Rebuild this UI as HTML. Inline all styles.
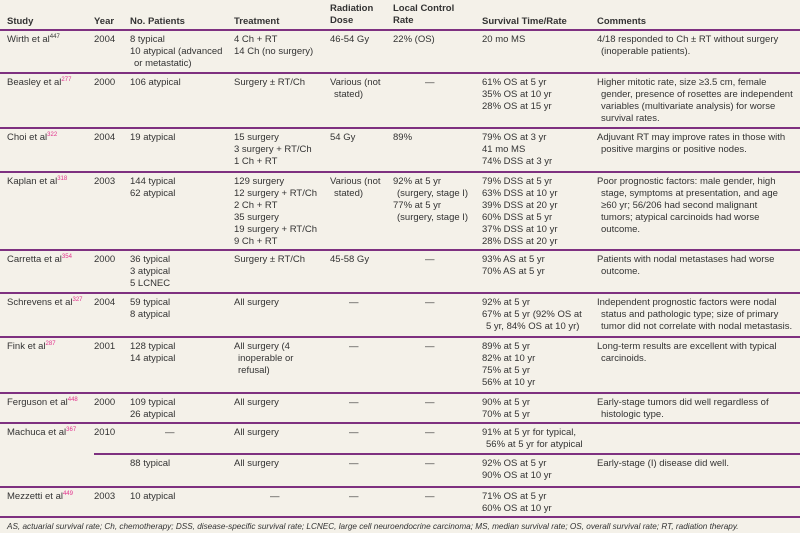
<!DOCTYPE html>
<html><head><meta charset="utf-8"><style>
body{margin:0;width:800px;height:533px;background:#f4f1e9;position:relative;overflow:hidden;font-family:"Liberation Sans",sans-serif;font-size:9.5px;color:#333;}
.c{position:absolute;line-height:12px;white-space:nowrap;}
.h{font-weight:bold;color:#333;}
.l{position:absolute;left:0;width:800px;height:1.5px;background:#7e3180;}
sup{font-size:6px;color:#e2308c;vertical-align:4px;line-height:0;}
sup.d{color:#333;}
.i{padding-left:4px;}
.cap{position:absolute;left:7px;top:522px;font-style:italic;font-size:8.2px;white-space:nowrap;}
</style></head><body>
<div class="c h" style="left:7px;top:16px">Study</div>
<div class="c h" style="left:94px;top:16px">Year</div>
<div class="c h" style="left:130px;top:16px">No. Patients</div>
<div class="c h" style="left:234px;top:16px">Treatment</div>
<div class="c h" style="left:330px;top:3px">Radiation<br>Dose</div>
<div class="c h" style="left:393px;top:3px">Local Control<br>Rate</div>
<div class="c h" style="left:482px;top:16px">Survival Time/Rate</div>
<div class="c h" style="left:597px;top:16px">Comments</div>
<div class="l" style="top:29px"></div>

<div class="c" style="left:7px;top:34px">Wirth et al<sup class="d">447</sup></div>
<div class="c" style="left:94px;top:34px">2004</div>
<div class="c" style="left:130px;top:34px">8 typical<br>10 atypical (advanced<br><span class="i">or metastatic)</span></div>
<div class="c" style="left:234px;top:34px">4 Ch + RT<br>14 Ch (no surgery)</div>
<div class="c" style="left:330px;top:34px">46-54 Gy</div>
<div class="c" style="left:393px;top:34px">22% (OS)</div>
<div class="c" style="left:482px;top:34px">20 mo MS</div>
<div class="c" style="left:597px;top:34px">4/18 responded to Ch ± RT without surgery<br><span class="i">(inoperable patients).</span></div>
<div class="l" style="top:72px"></div>

<div class="c" style="left:7px;top:77px">Beasley et al<sup>277</sup></div>
<div class="c" style="left:94px;top:77px">2000</div>
<div class="c" style="left:130px;top:77px">106 atypical</div>
<div class="c" style="left:234px;top:77px">Surgery ± RT/Ch</div>
<div class="c" style="left:330px;top:77px">Various (not<br><span class="i">stated)</span></div>
<div class="c" style="left:425px;top:77px">—</div>
<div class="c" style="left:482px;top:77px">61% OS at 5 yr<br>35% OS at 10 yr<br>28% OS at 15 yr</div>
<div class="c" style="left:597px;top:77px">Higher mitotic rate, size ≥3.5 cm, female<br><span class="i">gender, presence of rosettes are independent</span><br><span class="i">variables (multivariate analysis) for worse</span><br><span class="i">survival rates.</span></div>
<div class="l" style="top:127px"></div>

<div class="c" style="left:7px;top:132px">Choi et al<sup>322</sup></div>
<div class="c" style="left:94px;top:132px">2004</div>
<div class="c" style="left:130px;top:132px">19 atypical</div>
<div class="c" style="left:234px;top:132px">15 surgery<br>3 surgery + RT/Ch<br>1 Ch + RT</div>
<div class="c" style="left:330px;top:132px">54 Gy</div>
<div class="c" style="left:393px;top:132px">89%</div>
<div class="c" style="left:482px;top:132px">79% OS at 3 yr<br>41 mo MS<br>74% DSS at 3 yr</div>
<div class="c" style="left:597px;top:132px">Adjuvant RT may improve rates in those with<br><span class="i">positive margins or positive nodes.</span></div>
<div class="l" style="top:171px"></div>

<div class="c" style="left:7px;top:176px">Kaplan et al<sup>318</sup></div>
<div class="c" style="left:94px;top:176px">2003</div>
<div class="c" style="left:130px;top:176px">144 typical<br>62 atypical</div>
<div class="c" style="left:234px;top:176px">129 surgery<br>12 surgery + RT/Ch<br>2 Ch + RT<br>35 surgery<br>19 surgery + RT/Ch<br>9 Ch + RT</div>
<div class="c" style="left:330px;top:176px">Various (not<br><span class="i">stated)</span></div>
<div class="c" style="left:393px;top:176px">92% at 5 yr<br><span class="i">(surgery, stage I)</span><br>77% at 5 yr<br><span class="i">(surgery, stage I)</span></div>
<div class="c" style="left:482px;top:176px">79% DSS at 5 yr<br>63% DSS at 10 yr<br>39% DSS at 20 yr<br>60% DSS at 5 yr<br>37% DSS at 10 yr<br>28% DSS at 20 yr</div>
<div class="c" style="left:597px;top:176px">Poor prognostic factors: male gender, high<br><span class="i">stage, symptoms at presentation, and age</span><br><span class="i">≥60 yr; 56/206 had second malignant</span><br><span class="i">tumors; atypical carcinoids had worse</span><br><span class="i">outcome.</span></div>
<div class="l" style="top:249px"></div>

<div class="c" style="left:7px;top:254px">Carretta et al<sup>354</sup></div>
<div class="c" style="left:94px;top:254px">2000</div>
<div class="c" style="left:130px;top:254px">36 typical<br>3 atypical<br>5 LCNEC</div>
<div class="c" style="left:234px;top:254px">Surgery ± RT/Ch</div>
<div class="c" style="left:330px;top:254px">45-58 Gy</div>
<div class="c" style="left:425px;top:254px">—</div>
<div class="c" style="left:482px;top:254px">93% AS at 5 yr<br>70% AS at 5 yr</div>
<div class="c" style="left:597px;top:254px">Patients with nodal metastases had worse<br><span class="i">outcome.</span></div>
<div class="l" style="top:292px"></div>

<div class="c" style="left:7px;top:297px">Schrevens et al<sup>327</sup></div>
<div class="c" style="left:94px;top:297px">2004</div>
<div class="c" style="left:130px;top:297px">59 typical<br>8 atypical</div>
<div class="c" style="left:234px;top:297px">All surgery</div>
<div class="c" style="left:349px;top:297px">—</div>
<div class="c" style="left:425px;top:297px">—</div>
<div class="c" style="left:482px;top:297px">92% at 5 yr<br>67% at 5 yr (92% OS at<br><span class="i">5 yr, 84% OS at 10 yr)</span></div>
<div class="c" style="left:597px;top:297px">Independent prognostic factors were nodal<br><span class="i">status and pathologic type; size of primary</span><br><span class="i">tumor did not correlate with nodal metastasis.</span></div>
<div class="l" style="top:336px"></div>

<div class="c" style="left:7px;top:341px">Fink et al<sup>287</sup></div>
<div class="c" style="left:94px;top:341px">2001</div>
<div class="c" style="left:130px;top:341px">128 typical<br>14 atypical</div>
<div class="c" style="left:234px;top:341px">All surgery (4<br><span class="i">inoperable or</span><br><span class="i">refusal)</span></div>
<div class="c" style="left:349px;top:341px">—</div>
<div class="c" style="left:425px;top:341px">—</div>
<div class="c" style="left:482px;top:341px">89% at 5 yr<br>82% at 10 yr<br>75% at 5 yr<br>56% at 10 yr</div>
<div class="c" style="left:597px;top:341px">Long-term results are excellent with typical<br><span class="i">carcinoids.</span></div>
<div class="l" style="top:392px"></div>

<div class="c" style="left:7px;top:397px">Ferguson et al<sup>448</sup></div>
<div class="c" style="left:94px;top:397px">2000</div>
<div class="c" style="left:130px;top:397px">109 typical<br>26 atypical</div>
<div class="c" style="left:234px;top:397px">All surgery</div>
<div class="c" style="left:349px;top:397px">—</div>
<div class="c" style="left:425px;top:397px">—</div>
<div class="c" style="left:482px;top:397px">90% at 5 yr<br>70% at 5 yr</div>
<div class="c" style="left:597px;top:397px">Early-stage tumors did well regardless of<br><span class="i">histologic type.</span></div>
<div class="l" style="top:422px"></div>

<div class="c" style="left:7px;top:427px">Machuca et al<sup>367</sup></div>
<div class="c" style="left:94px;top:427px">2010</div>
<div class="c" style="left:165px;top:427px">—</div>
<div class="c" style="left:234px;top:427px">All surgery</div>
<div class="c" style="left:349px;top:427px">—</div>
<div class="c" style="left:425px;top:427px">—</div>
<div class="c" style="left:482px;top:427px">91% at 5 yr for typical,<br><span class="i">56% at 5 yr for atypical</span></div>
<div class="l" style="top:453px;left:94px;width:706px"></div>
<div class="c" style="left:130px;top:458px">88 typical</div>
<div class="c" style="left:234px;top:458px">All surgery</div>
<div class="c" style="left:349px;top:458px">—</div>
<div class="c" style="left:425px;top:458px">—</div>
<div class="c" style="left:482px;top:458px">92% OS at 5 yr<br>90% OS at 10 yr</div>
<div class="c" style="left:597px;top:458px">Early-stage (I) disease did well.</div>
<div class="l" style="top:486px"></div>

<div class="c" style="left:7px;top:491px">Mezzetti et al<sup>449</sup></div>
<div class="c" style="left:94px;top:491px">2003</div>
<div class="c" style="left:130px;top:491px">10 atypical</div>
<div class="c" style="left:270px;top:491px">—</div>
<div class="c" style="left:349px;top:491px">—</div>
<div class="c" style="left:425px;top:491px">—</div>
<div class="c" style="left:482px;top:491px">71% OS at 5 yr<br>60% OS at 10 yr</div>
<div class="l" style="top:516px"></div>

<div class="cap">AS, actuarial survival rate; Ch, chemotherapy; DSS, disease-specific survival rate; LCNEC, large cell neuroendocrine carcinoma; MS, median survival rate; OS, overall survival rate; RT, radiation therapy.</div>
</body></html>
